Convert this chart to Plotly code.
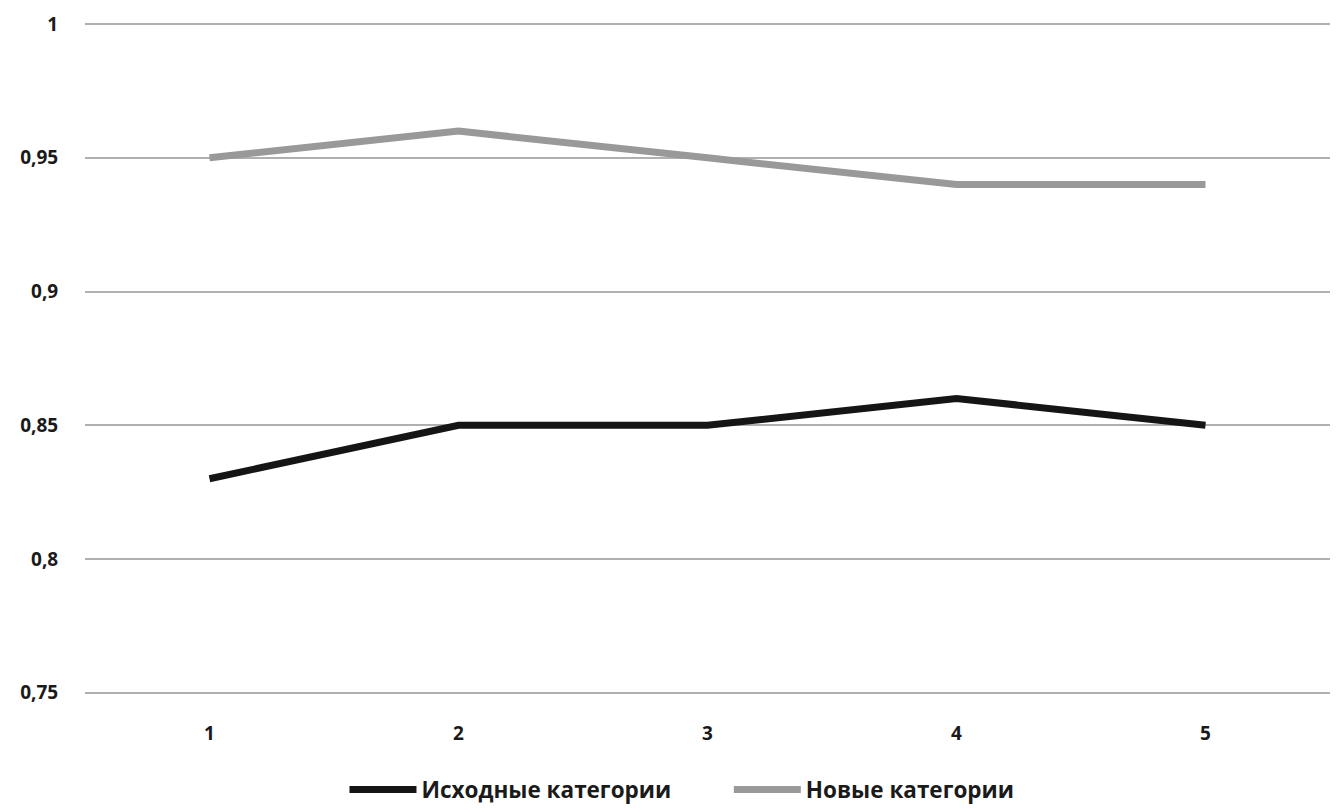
import plotly.graph_objects as go

categories = ["1", "2", "3", "4", "5"]
original = [0.83, 0.85, 0.85, 0.86, 0.85]
new = [0.95, 0.96, 0.95, 0.94, 0.94]
ytick_vals = [0.75, 0.8, 0.85, 0.9, 0.95, 1.0]
ytick_text = ["0,75", "0,8", "0,85", "0,9", "0,95", "1"]

font_family = "Open Sans"

fig = go.Figure()
fig.add_trace(go.Scatter(x=categories, y=original, mode="lines",
                         name="<b>Исходные категории</b>" + "&nbsp;" * 9,
                         line=dict(color="#151515", width=7)))
fig.add_trace(go.Scatter(x=categories, y=new, mode="lines", name="<b>Новые категории</b>",
                         line=dict(color="#999999", width=7)))

fig.update_layout(
    width=1341, height=810,
    margin=dict(l=85, r=11, t=22, b=116, autoexpand=False),
    plot_bgcolor="white", paper_bgcolor="white",
    font=dict(family=font_family, size=19, color="#1a1a1a"),
    showlegend=True,
    legend=dict(orientation="h", x=0.4795, xanchor="center", yref="container",
                y=0.025, yanchor="middle",
                font=dict(size=22.5), itemwidth=67),
    xaxis=dict(type="category", range=[-0.5, 4.5], showgrid=False, showline=False, zeroline=False,
               ticks="outside", ticklen=22, tickcolor="rgba(0,0,0,0)",
               tickfont=dict(size=19), tickprefix="<b>", ticksuffix="</b>"),
    yaxis=dict(range=[0.7495, 1.0008], tickvals=ytick_vals,
               ticktext=["<b>" + t + "</b>" for t in ytick_text],
               showgrid=True, gridcolor="#b0b0b0", gridwidth=2, zeroline=False, showline=False,
               ticks="outside", ticklen=22, tickcolor="rgba(0,0,0,0)", tickfont=dict(size=19)),
)

fig.write_html("out.html")
